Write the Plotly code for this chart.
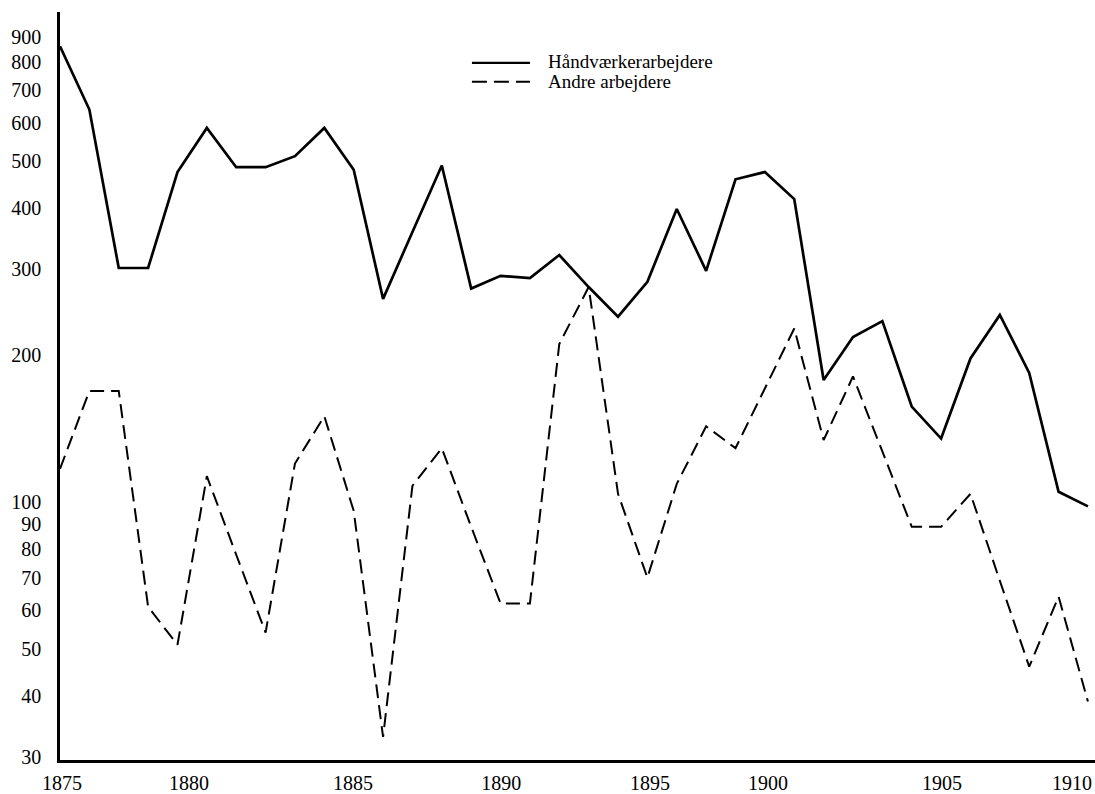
import plotly.graph_objects as go

years = list(range(1875, 1911))

haandvaerker = [860, 638, 302, 302, 475, 585, 486, 486, 512, 585, 480, 261,
                358, 490, 274, 291, 288, 321, 276, 240, 283, 399, 298, 459,
                475, 418, 178, 218, 235, 157, 135, 197, 242, 184, 105, 98]

andre = [117, 169, 169, 61, 51, 113, 78, 54, 120, 150, 96, 33,
         108, 129, 89, 62, 62, 211, 276, 104, 70, 109, 143, 129,
         171, 227, 134, 181, 127, 89, 89, 104, 69, 46, 64, 39]

x_tick_labels = ["1875", "1880", "1885", "1890", "1895", "1900", "1905", "1910"]
x_tick_pos = [1875.07, 1879.39, 1884.98, 1890.02, 1895.09, 1899.11, 1905.03, 1909.46]

y_tick_vals = [30, 40, 50, 60, 70, 80, 90, 100, 200, 300, 400, 500, 600, 700, 800, 900]
y_tick_text = [str(v) for v in y_tick_vals]

series_names = ["Håndværkerarbejdere", "Andre arbejdere"]

FONT = "Liberation Serif"

fig = go.Figure()
fig.add_trace(go.Scatter(x=years, y=haandvaerker, mode="lines", name=series_names[0],
                         line=dict(color="black", width=2.7), showlegend=False))
fig.add_trace(go.Scatter(x=years, y=andre, mode="lines", name=series_names[1],
                         line=dict(color="black", width=2.0, dash="14px,7px"), showlegend=False))

# legend drawn manually (paper coordinates)
fig.add_shape(type="line", xref="paper", yref="paper", x0=0.398, x1=0.4541, y0=0.9321, y1=0.9321,
              line=dict(color="black", width=2.2))
fig.add_shape(type="line", xref="paper", yref="paper", x0=0.398, x1=0.4541, y0=0.9068, y1=0.9068,
              line=dict(color="black", width=2.0, dash="15px,7px"))
fig.add_annotation(xref="paper", yref="paper", x=0.4696, y=0.9335, text=series_names[0],
                   showarrow=False, xanchor="left", yanchor="middle",
                   font=dict(family=FONT, size=19, color="black"))
fig.add_annotation(xref="paper", yref="paper", x=0.4696, y=0.9068, text=series_names[1],
                   showarrow=False, xanchor="left", yanchor="middle",
                   font=dict(family=FONT, size=19, color="black"))

fig.update_layout(
    width=1095, height=794,
    margin=dict(l=60, r=0, t=12, b=31),
    paper_bgcolor="white", plot_bgcolor="white",
    font=dict(family=FONT, size=20, color="black"),
    xaxis=dict(range=[1875, 1875 + 1035 / 29.37], tickvals=x_tick_pos, ticktext=x_tick_labels,
               showgrid=False, zeroline=False, showline=True, linecolor="black", linewidth=2.5,
               ticks="", ticklabelstandoff=3, tickfont=dict(family=FONT, size=20)),
    yaxis=dict(type="log", range=[1.4713, 3.0048], tickvals=y_tick_vals, ticktext=y_tick_text,
               showgrid=False, zeroline=False, showline=True, linecolor="black", linewidth=2.5,
               ticks="", ticklabelstandoff=12, tickfont=dict(family=FONT, size=20)),
)

fig.write_html("out.html",
               config={"displayModeBar": False},
               post_script="document.body.style.margin='0';document.body.style.overflow='hidden';")
